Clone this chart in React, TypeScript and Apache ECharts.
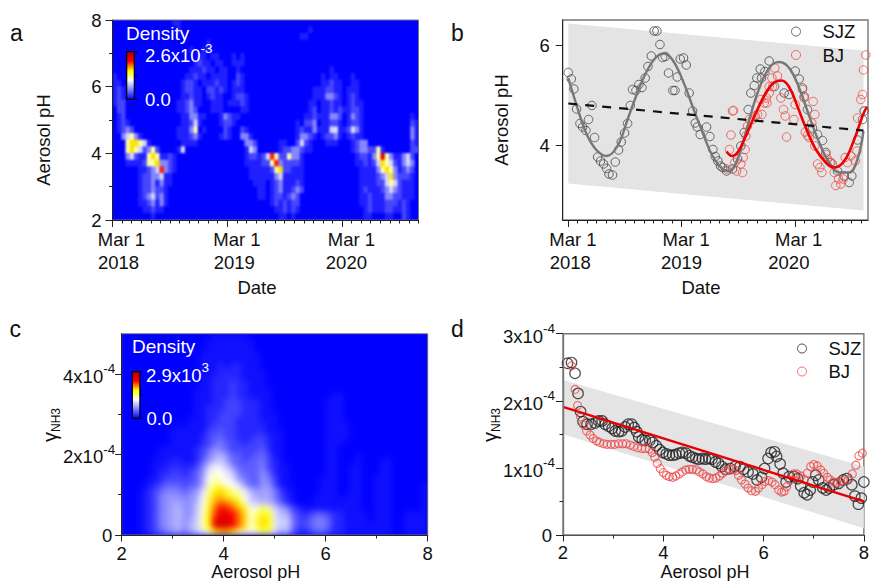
import React, { useEffect, useRef } from "react";
import * as echarts from "echarts";

const FONT = "Liberation Sans";
const BLUE_RAMP = ["#0000ff", "#8080ff", "#ffffff", "#ffff00", "#ff0000", "#b00000"];
// density scale for the level characters of each heat panel
const levelA = [0, 0.45, 1.0, 1.9, 3.0, 4.2, 5.6, 7.0, 8, 9];
const levelC = [
  0, 0.9, 2.1, 3.6, 5.2, 6.8, 8, 9, 10, 11, 11.5, 12, 12.7, 13.4, 14, 15, 16, 17, 18, 19, 20, 21, 22, 23, 24, 25, 26, 27,
  28, 29, 30, 31, 32, 33, 34, 35,
];

// Panel a: density levels (0-9), rows from pH 8 (top) to pH 2, 72 columns
const densityA = [
  "000000000000 001100000000 000000000000 000000000000 000000000000 000000000000",
  "000000000000 000100000000 000000000000 000000000010 000000000000 000000000000",
  "000000000000 000000000000 000000000000 000000001100 000000000000 000000000000",
  "000000000000 000000000010 000000000000 000000000000 000000000000 000000000000",
  "000000000000 000000100110 000000000000 000000000000 000000000000 000000000000",
  "000000000000 000000001101 100010100000 000000000000 000000000000 000000000000",
  "000000000000 000000012110 110011100000 000000000000 000000000000 000000000000",
  "000000000000 000000111211 011001000000 000000000000 000100000000 000000000000",
  "100000000000 000001121101 111002100000 000000000000 010110001000 000000000000",
  "110000000000 000012210111 211012100000 000000000000 011211001100 000000000000",
  "121000000000 000012211022 121011100000 000000000001 112211011100 000000000000",
  "121000000000 000011211012 110012210000 000000000001 113321012100 000000000000",
  "122000000000 000112311001 110111210000 000000000011 011211012110 000000000000",
  "022000000000 000112320001 110000110000 000000000012 011212112210 000000000000",
  "012000000000 000011331100 013211000000 000000000112 111332013210 000000000010",
  "012100000000 000011241000 012210000000 000000010223 011221012210 000000000021",
  "012320000000 000111350100 002100210000 000000012113 111441124310 000000000031",
  "003453100000 000111231000 012100331000 000000013321 012231012110 000000000031",
  "000566541000 000011110000 000000033200 000110024210 001110001233 000000000021",
  "000565423520 000140000000 000000014300 000122332110 000000001233 225100000022",
  "000342115651 121000000000 000000012212 475225331000 000000000122 135853113420",
  "000111125563 321000000000 000000011112 257322221000 000000000112 124654213430",
  "000000112347 321000000000 000000001111 125622111000 000000000011 113565312320",
  "000000122334 110000000000 000000001111 113411111000 000000000011 112346322210",
  "000000122313 110000000000 000000000111 012311121000 000000000011 112245421110",
  "000000122322 100000000000 000000000011 012311232000 000000000012 111234321110",
  "000000123423 100000000000 000000000011 012212320000 000000000011 211133221110",
  "000000112313 100000000000 000000000000 012121220000 000000000011 211122212100",
  "000000011211 000000000000 000000000000 001121210000 000000000001 211122112100",
  "000000000100 000000000000 000000000000 000110100000 000000000001 100011002100",
];

// Panel c: density levels (base 36), rows from 5x10-4 (top) to 0, 51 columns pH 2..8
const densityC = [
  "0000000000 0000011111 1000000000 0000000000 0000000000 0",
  "0000000000 0000111111 1100000000 0000000000 0000000000 0",
  "0000000000 0000111111 1100000000 0000000000 0000000000 0",
  "0000000000 0001111111 1110000000 0000000000 0000000000 0",
  "0000000000 0001111111 1110000000 0000000000 0000000000 0",
  "0000000000 0001112122 1110000000 0000000000 0000000000 0",
  "0000000000 0001112222 1111000000 0000000000 0000000000 0",
  "0000000000 0001122222 1111000000 0000000000 0000000000 0",
  "0000000000 0001122232 2111000000 0000000000 0000000000 0",
  "0000000000 0011122232 2111100000 0000000000 0000000000 0",
  "0000000000 0011122232 2111100000 0000011000 0000000000 0",
  "0000000000 0011122333 2221100000 0000111000 0000000000 0",
  "0000000000 0011222333 2221100000 0000111000 0000000000 0",
  "0000000000 0011223333 2221110000 0000111000 0000000000 0",
  "0000000000 0111223332 2221110000 0000111000 0000000000 0",
  "0000000001 0111233332 2222110000 0000111100 0000000000 0",
  "0000000011 1111334332 2222111000 0000111100 0000000000 0",
  "0000000011 1112344332 2233211000 0000111100 0000000000 0",
  "0000000011 1112345433 2333211000 0000111000 0000000000 0",
  "0000001111 1123465433 3334211000 0000110000 0000000000 0",
  "0000001111 1123578644 3344311000 0000110001 0000000000 0",
  "0000011122 1124689744 3445321000 0000110001 0001100000 0",
  "0000011222 2235adc964 4445321100 0000110011 0001100000 0",
  "0000012233 2346cfec95 4446421100 0000110011 0001100000 0",
  "0000112333 3347egfdb6 5446531100 0001110011 0011100000 0",
  "0000123444 3447fiheeb 6446631100 0001110011 0011100000 1",
  "0001234555 456bglmkhf c867753110 0001110011 0011100000 1",
  "0001235666 567dimnlji e977753210 0011110111 0011100000 1",
  "0001235677 668ejnponl fa98864210 0011111111 0011100000 1",
  "0001235678 669fkpsrpn lefiga7632 1111111111 0011100000 1",
  "0001235678 669flqtusp mfilkc8843 2344322111 1011100111 1",
  "0001235678 67agluvvsp mfjmlc9a53 3455422111 1011100111 1",
  "0001235678 68agluvvsp mfjmlc9a53 3455422111 1111100111 1",
  "0001234567 579cglnnlh gdgjib7842 2344322111 1111100111 1",
];

// Panel a/b date axis
const dateTicks = [0, 12, 24];
const dateMonth = ["Mar 1", "Mar 1", "Mar 1"];
const dateYear = ["2018", "2019", "2020"];
const monthTicks = [
  0, 1, 2, 3, 4, 5, 6, 7, 8, 9, 10, 11, 12, 13, 14, 15, 16, 17, 18, 19, 20, 21, 22, 23, 24, 25, 26,
  27, 28, 29, 30, 31, 32,
];
const offsetMonthA = [9, 9.7, 9.4];
const offsetYearA = [6, 7, 4.4];
const offsetMonthB = [4.6, 4.6, 3.8];
const offsetYearB = [2, 0, -6];

// Panel b: [months since Mar 1 2018, aerosol pH]
const sjzTime = [
  [0, 5.45], [0.32, 5.32], [0.6, 5.12], [0.88, 4.72], [1.24, 4.43], [1.52, 4.36], [1.87, 4.29], [2.15, 4.51],
  [2.5, 4.79], [2.79, 4.15], [3.11, 3.76], [3.42, 3.68], [3.74, 3.62], [4.06, 3.53], [4.31, 3.42], [4.69, 3.4],
  [4.98, 3.66], [5.33, 3.9], [5.61, 4.06], [5.97, 4.24], [6.28, 4.43], [6.57, 4.79], [6.81, 5.11], [7.17, 5.09],
  [7.48, 5.21], [7.8, 5.15], [8.15, 5.34], [8.44, 5.57], [8.79, 5.78], [9.1, 6.28], [9.39, 6.28], [9.71, 6.01],
  [9.99, 5.75], [10.27, 5.77], [10.62, 5.44], [11.08, 5.09], [11.3, 5.09], [11.54, 5.36], [11.86, 5.72],
  [12.21, 5.74], [12.5, 5.6], [12.81, 5.04], [13.17, 4.68], [13.45, 4.44], [13.66, 4.36], [13.98, 4.21],
  [14.65, 4.36], [15.0, 4.17], [15.32, 3.91], [15.57, 3.77], [15.85, 3.68], [16.13, 3.58], [16.34, 3.55],
  [16.77, 3.48], [17.4, 3.52], [17.93, 3.72], [18.28, 3.98], [18.64, 4.25], [19.06, 4.71], [19.34, 5.04],
  [19.7, 5.19], [19.98, 5.34], [20.33, 5.52], [20.47, 5.34], [20.83, 5.47], [21.28, 5.68], [21.85, 5.17],
  [22.87, 5.04], [23.4, 5.01], [24.04, 5.48], [24.46, 5.32], [24.81, 5.14], [24.99, 4.97], [25.34, 4.71],
  [25.87, 4.34], [26.4, 4.21], [26.93, 4.09], [27.28, 3.85], [27.81, 3.65], [28.52, 3.48], [29.23, 3.38],
  [29.76, 3.25], [30.04, 3.38], [30.64, 4.1], [31.17, 4.51], [31.34, 4.68],
];
const bjTime = [
  [16.8, 3.52], [17.08, 3.91], [17.23, 4.2], [17.4, 4.68], [17.51, 4.69], [17.65, 3.65], [17.83, 3.48],
  [18.28, 3.62], [18.46, 3.45], [18.53, 3.75], [18.74, 3.91], [18.81, 4.18], [18.99, 4.38], [19.17, 4.51],
  [19.52, 4.51], [19.8, 4.58], [20.05, 4.61], [20.51, 4.61], [20.4, 4.91], [20.76, 4.84], [21.0, 4.94],
  [21.04, 4.84], [21.28, 5.17], [21.28, 5.04], [21.57, 5.34], [21.64, 5.17], [21.88, 5.54], [22.17, 5.38],
  [22.52, 4.94], [22.8, 4.71], [22.98, 4.58], [23.12, 4.16], [23.9, 4.51], [24.04, 4.81], [24.81, 5.11],
  [24.99, 4.94], [25.94, 4.87], [26.12, 4.61], [25.8, 4.44], [25.1, 4.26], [25.34, 4.19], [25.52, 4.15],
  [26.12, 3.98], [26.4, 3.62], [26.65, 3.55], [26.86, 3.45], [27.28, 3.81], [27.46, 3.72], [27.74, 3.65],
  [27.99, 3.62], [28.17, 3.45], [28.34, 3.19], [28.63, 3.32], [28.87, 3.22], [29.12, 3.32], [29.33, 3.75],
  [29.58, 3.65], [29.93, 3.78], [30.39, 3.68], [30.57, 3.88], [30.64, 4.54], [30.99, 4.91], [31.17, 5.01],
  [31.27, 5.5], [31.52, 5.8],
];
const sjzFitTime = [
  [0, 5.34], [0.81, 4.84], [1.87, 4.25], [2.93, 3.91], [4.06, 3.78], [5.22, 3.98], [6.28, 4.51], [7.17, 4.97],
  [8.22, 5.44], [9.28, 5.75], [10.17, 5.83], [11.05, 5.7], [12.11, 5.3], [13.17, 4.77], [14.23, 4.25],
  [15.28, 3.78], [16.34, 3.52], [17.05, 3.48], [17.93, 3.72], [18.99, 4.38], [20.05, 5.04], [21.28, 5.54],
  [22.34, 5.66], [23.4, 5.54], [24.46, 5.14], [25.52, 4.58], [26.58, 4.05], [27.64, 3.65], [28.7, 3.45],
  [29.76, 3.45], [30.64, 3.72], [31.27, 4.28],
];
const bjFitTime = [
  [16.77, 3.87], [17.33, 3.78], [17.93, 3.85], [18.81, 4.18], [19.87, 4.64], [20.93, 5.04], [21.81, 5.25],
  [22.59, 5.29], [23.4, 5.16], [24.28, 4.77], [25.17, 4.34], [26.23, 3.91], [27.28, 3.65], [28.17, 3.55],
  [29.23, 3.68], [30.29, 4.11], [31.17, 4.58], [31.63, 4.77],
];
const trendTime = [[0, 4.83], [31.27, 4.29]];
const bandTime = [[0, 6.43], [31.27, 5.89], [31.27, 2.69], [0, 3.23]];

// Panel d: [aerosol pH, gamma NH3 in units of 1e-4]
const sjzGamma = [
  [2.09, 2.56], [2.17, 2.57], [2.24, 2.41], [2.3, 2.11], [2.35, 1.84], [2.4, 1.69], [2.48, 1.65], [2.56, 1.65],
  [2.64, 1.67], [2.71, 1.7], [2.78, 1.7], [2.84, 1.65], [2.91, 1.62], [2.98, 1.59], [3.04, 1.55], [3.11, 1.54],
  [3.17, 1.55], [3.24, 1.61], [3.3, 1.65], [3.37, 1.65], [3.42, 1.6], [3.47, 1.54], [3.51, 1.46], [3.58, 1.42],
  [3.64, 1.41], [3.73, 1.41], [3.79, 1.38], [3.86, 1.33], [3.93, 1.27], [3.99, 1.23], [4.06, 1.21], [4.12, 1.19],
  [4.19, 1.19], [4.25, 1.2], [4.32, 1.22], [4.38, 1.23], [4.45, 1.22], [4.52, 1.18], [4.58, 1.16], [4.65, 1.14],
  [4.71, 1.13], [4.78, 1.14], [4.84, 1.13], [4.91, 1.14], [4.97, 1.13], [5.04, 1.09], [5.1, 1.07], [5.17, 1.02],
  [5.24, 0.98], [5.33, 0.99], [5.43, 1.02], [5.53, 1.02], [5.6, 0.98], [5.69, 0.94], [5.79, 0.91], [5.87, 0.82],
  [5.96, 0.86], [6.02, 0.99], [6.09, 1.14], [6.15, 1.23], [6.22, 1.24], [6.26, 1.17], [6.33, 1.06], [6.39, 0.92],
  [6.45, 0.79], [6.51, 0.87], [6.61, 0.87], [6.68, 0.84], [6.74, 0.73], [6.81, 0.63], [6.87, 0.6], [6.93, 0.67],
  [6.98, 0.79], [7.04, 0.89], [7.1, 0.82], [7.18, 0.7], [7.25, 0.67], [7.31, 0.7], [7.4, 0.75], [7.5, 0.77],
  [7.59, 0.82], [7.66, 0.84], [7.76, 0.75], [7.82, 0.58], [7.89, 0.46], [7.95, 0.55], [8.0, 0.79],
];
const bjGamma = [
  [2.17, 2.52], [2.24, 2.17], [2.29, 1.93], [2.35, 1.76], [2.41, 1.64], [2.47, 1.55], [2.54, 1.49], [2.6, 1.44],
  [2.67, 1.4], [2.73, 1.38], [2.81, 1.36], [2.88, 1.35], [2.96, 1.35], [3.03, 1.35], [3.11, 1.36], [3.19, 1.36],
  [3.26, 1.36], [3.34, 1.34], [3.41, 1.32], [3.49, 1.3], [3.57, 1.29], [3.64, 1.29], [3.72, 1.28], [3.78, 1.23],
  [3.83, 1.16], [3.88, 1.07], [3.94, 0.99], [4.0, 0.93], [4.06, 0.89], [4.12, 0.87], [4.19, 0.86], [4.25, 0.88],
  [4.32, 0.91], [4.38, 0.94], [4.45, 0.97], [4.52, 0.98], [4.58, 0.98], [4.66, 0.97], [4.72, 0.94], [4.79, 0.91],
  [4.86, 0.87], [4.92, 0.85], [4.99, 0.84], [5.05, 0.85], [5.12, 0.88], [5.18, 0.92], [5.25, 0.96], [5.32, 0.98],
  [5.39, 0.98], [5.45, 0.96], [5.5, 0.89], [5.56, 0.82], [5.63, 0.76], [5.69, 0.7], [5.76, 0.66], [5.84, 0.65],
  [5.9, 0.7], [5.97, 0.75], [6.03, 0.8], [6.1, 0.81], [6.17, 0.79], [6.23, 0.75], [6.3, 0.67], [6.36, 0.64],
  [6.41, 0.65], [6.46, 0.72], [6.53, 0.82], [6.59, 0.91], [6.66, 0.91], [6.74, 0.88], [6.81, 0.83], [6.87, 0.92],
  [6.94, 1.02], [7.0, 1.05], [7.07, 1.03], [7.14, 0.97], [7.2, 0.92], [7.27, 0.86], [7.33, 0.82], [7.4, 0.79],
  [7.46, 0.78], [7.53, 0.79], [7.59, 0.81], [7.69, 0.82], [7.77, 0.91], [7.84, 1.04], [7.9, 1.18], [7.97, 1.22],
];
const fitGamma = [[2, 1.91], [8, 0.5]];
const bandGamma = [[2, 2.31], [8, 1.02], [8, 0.1], [2, 1.5]];

function gridData(rows: string[], map: number[]) {
  const clean = rows.map((r) => r.replace(/ /g, ""));
  const out: number[][] = [];
  clean.forEach((row, r) => {
    for (let c = 0; c < row.length; c++) {
      out.push([c, clean.length - 1 - r, map[parseInt(row[c], 36)]]);
    }
  });
  return { data: out, cols: clean[0].length, rows: clean.length };
}

function heatOption(rows: string[], max: number, map: number[]) {
  const g = gridData(rows, map);
  return {
    animation: false,
    backgroundColor: "#0000ff",
    grid: { left: 0, right: 0, top: 0, bottom: 0 },
    xAxis: { type: "category", show: false, data: Array.from({ length: g.cols }, (_, i) => i) },
    yAxis: { type: "category", show: false, data: Array.from({ length: g.rows }, (_, i) => i) },
    visualMap: { show: false, type: "continuous", dimension: 2, min: 0, max, inRange: { color: BLUE_RAMP } },
    series: [{ type: "heatmap", data: g.data, silent: true, progressive: 0 }],
  };
}

function dateAxisLabel(offM: number[], offY: number[], margin: number) {
  const rich: any = {};
  const pad = (d: number) => (d >= 0 ? [0, 0, 0, 2 * d] : [0, -2 * d, 0, 0]);
  dateTicks.forEach((_, i) => {
    rich["m" + i] = { fontFamily: FONT, fontSize: 18.5, color: "#111", lineHeight: 23, align: "center", padding: pad(offM[i]) };
    rich["y" + i] = { fontFamily: FONT, fontSize: 18.5, color: "#111", lineHeight: 23, align: "center", padding: pad(offY[i]) };
  });
  return {
    customValues: dateTicks,
    margin,
    rich,
    formatter: (v: number) => {
      const i = dateTicks.indexOf(v);
      return `{m${i}|${dateMonth[i]}}\n{y${i}|${dateYear[i]}}`;
    },
  };
}

const supRich = {
  a: { fontFamily: FONT, fontSize: 18.5, color: "#111", lineHeight: 24, verticalAlign: "bottom" },
  b: { fontFamily: FONT, fontSize: 13.5, color: "#111", lineHeight: 14, verticalAlign: "top" },
  z: { fontFamily: FONT, fontSize: 18.5, color: "#111", lineHeight: 18, padding: [0, 3, 0, 0] },
};

const gammaLabel = (v: number) => (v === 0 ? "{z|0}" : `{a|${v}x10}{b|-4}`);

const axisLine = (color = "#222", width = 1) => ({ show: true, onZero: false, lineStyle: { color, width } });
const tick = (length: number) => ({ show: true, inside: false, length, lineStyle: { color: "#222", width: 1 } });
const plainLabel = { fontFamily: FONT, fontSize: 18.5, color: "#111" };
const minor = { show: true, splitNumber: 2, length: 3.5, lineStyle: { color: "#222" } };

function whiteText(x: number, y: number, text: string, fontSize = 18.5) {
  return { type: "text", z: 100, x, y, style: { text, fill: "#fff", fontFamily: FONT, fontSize, align: "left", verticalAlign: "middle" } };
}
function supText(x: number, y: number, base: string, sup: string) {
  return {
    type: "text",
    z: 100,
    x,
    y,
    style: {
      text: `{a|${base}}{b|${sup}}`,
      align: "left",
      verticalAlign: "middle",
      rich: {
        a: { fill: "#fff", fontFamily: FONT, fontSize: 18.5, lineHeight: 24, verticalAlign: "bottom" },
        b: { fill: "#fff", fontFamily: FONT, fontSize: 13.5, lineHeight: 14, verticalAlign: "top" },
      },
    },
  };
}
function darkText(x: number, y: number, text: string, fontSize = 23) {
  return { type: "text", z: 100, x, y, style: { text, fill: "#111", fontFamily: FONT, fontSize, align: "left", verticalAlign: "middle" } };
}
function axisTitle(x: number, y: number, text: string, rotated = false, fontSize = 18.5) {
  return {
    type: "text",
    z: 100,
    x,
    y,
    rotation: rotated ? Math.PI / 2 : 0,
    style: { text, fill: "#111", fontFamily: FONT, fontSize, align: "center", verticalAlign: "middle" },
  };
}
function gammaTitle(x: number, y: number) {
  return {
    type: "text",
    z: 100,
    x,
    y,
    rotation: Math.PI / 2,
    style: {
      text: "{g|γ}{s|NH3}",
      align: "center",
      verticalAlign: "middle",
      rich: {
        g: { fill: "#111", fontFamily: FONT, fontSize: 20, lineHeight: 18, verticalAlign: "top" },
        s: { fill: "#111", fontFamily: FONT, fontSize: 12, lineHeight: 22, verticalAlign: "bottom" },
      },
    },
  };
}
function colorBar(x: number, y: number, w: number, h: number) {
  const line = (x1: number, y1: number, x2: number, y2: number) => ({
    type: "line",
    z: 100,
    shape: { x1, y1, x2, y2 },
    style: { stroke: "#000", lineWidth: 1 },
  });
  const stops = BLUE_RAMP.map((color, i) => ({ offset: i / (BLUE_RAMP.length - 1), color }));
  return [
    {
      type: "rect",
      z: 100,
      shape: { x, y, width: w, height: h },
      style: { fill: new echarts.graphic.LinearGradient(0, 1, 0, 0, stops), stroke: "#000", lineWidth: 1.2 },
    },
    line(x + w, y, x + w + 3, y),
    line(x + w, y + h / 2, x + w + 3, y + h / 2),
    line(x + w, y + h, x + w + 3, y + h),
  ];
}

function hollow(color: string, size: number, data: number[][], name: string, xi: number, yi: number, width = 1) {
  return {
    type: "scatter",
    name,
    xAxisIndex: xi,
    yAxisIndex: yi,
    data,
    symbol: "circle",
    symbolSize: size,
    silent: true,
    clip: true,
    z: 3,
    itemStyle: { color: "rgba(0,0,0,0)", borderColor: color, borderWidth: width },
  };
}
function band(poly: number[][], name: string, xi: number, yi: number) {
  return {
    type: "custom",
    name,
    xAxisIndex: xi,
    yAxisIndex: yi,
    silent: true,
    z: 1,
    data: [poly[0]],
    renderItem: (_: any, api: any) => ({
      type: "polygon",
      shape: { points: poly.map((p) => api.coord(p)) },
      style: { fill: "#e4e4e4" },
    }),
  };
}
function curve(data: number[][], color: string, width: number, xi: number, yi: number, name: string, extra: any = {}) {
  const { smooth, ...rest } = extra;
  return {
    type: "line",
    name,
    data,
    xAxisIndex: xi,
    yAxisIndex: yi,
    symbol: "none",
    silent: true,
    z: 4,
    lineStyle: { color, width, ...rest },
    smooth: smooth || false,
  };
}

export default function App() {
  const ref = useRef<HTMLDivElement>(null);
  const heatARef = useRef<HTMLDivElement>(null);
  const heatCRef = useRef<HTMLDivElement>(null);
  useEffect(() => {
    document.body.style.margin = "0";
    const heatA = echarts.init(heatARef.current!, undefined, { renderer: "svg" });
    heatA.setOption(heatOption(densityA, 9, levelA));
    const heatC = echarts.init(heatCRef.current!, undefined, { renderer: "svg" });
    heatC.setOption(heatOption(densityC, 35, levelC));
    const chart = echarts.init(ref.current!, undefined, { renderer: "svg" });
    const option: any = {
      animation: false,
      textStyle: { fontFamily: FONT },
      grid: [
        { left: 112.5, top: 20, width: 306, height: 200, show: true, borderColor: "#777", borderWidth: 1 },
        { left: 562.7, top: 20, width: 305.3, height: 200, show: true, borderColor: "#777", borderWidth: 1.4 },
        { left: 121.7, top: 333.7, width: 306, height: 201.3, show: true, borderColor: "#777", borderWidth: 1 },
        { left: 563, top: 333.7, width: 305, height: 201.3, show: true, borderColor: "#777", borderWidth: 1.4 },
      ],
      xAxis: [
        {
          type: "value", gridIndex: 0, min: 0, max: 32, position: "bottom", z: 5, splitLine: { show: false },
          axisLine: axisLine(), axisTick: { ...tick(7), customValues: dateTicks },
          axisLabel: dateAxisLabel(offsetMonthA, offsetYearA, 8),
        },
        {
          type: "value", gridIndex: 0, min: 0, max: 32, position: "bottom", z: 5, splitLine: { show: false },
          axisLine: { show: false, onZero: false }, axisTick: { ...tick(3.5), customValues: monthTicks }, axisLabel: { show: false },
        },
        {
          type: "value", gridIndex: 1, min: -0.59, max: 31.75, position: "bottom", z: 5, splitLine: { show: false },
          axisLine: axisLine(), axisTick: { ...tick(7), customValues: dateTicks },
          axisLabel: dateAxisLabel(offsetMonthB, offsetYearB, 8),
        },
        {
          type: "value", gridIndex: 1, min: -0.59, max: 31.75, position: "bottom", z: 5, splitLine: { show: false },
          axisLine: { show: false, onZero: false }, axisTick: { ...tick(3.5), customValues: monthTicks.slice(0, 32) }, axisLabel: { show: false },
        },
        {
          type: "value", gridIndex: 2, min: 2, max: 8, interval: 2, position: "bottom", z: 5, splitLine: { show: false },
          axisLine: axisLine(), axisTick: tick(6.5), minorTick: minor,
          axisLabel: { ...plainLabel, margin: 11, lineHeight: 14 },
        },
        {
          type: "value", gridIndex: 3, min: 2, max: 8, interval: 2, position: "bottom", z: 5, splitLine: { show: false },
          axisLine: axisLine("#555"), axisTick: tick(6.5), minorTick: minor,
          axisLabel: { ...plainLabel, margin: 10, lineHeight: 14 },
        },
      ],
      yAxis: [
        {
          type: "value", gridIndex: 0, min: 2, max: 8, interval: 2, position: "left", z: 5, splitLine: { show: false },
          axisLine: axisLine(), axisTick: tick(7), minorTick: minor,
          axisLabel: { ...plainLabel, margin: 11 },
        },
        {
          type: "value", gridIndex: 1, min: 2.5, max: 6.5, position: "left", z: 5, splitLine: { show: false },
          axisLine: axisLine(), axisTick: { ...tick(7), customValues: [4, 6] },
          axisLabel: { ...plainLabel, margin: 13, customValues: [4, 6] },
        },
        {
          type: "value", gridIndex: 2, min: 0, max: 5, position: "left", z: 5, splitLine: { show: false },
          axisLine: axisLine(), axisTick: { ...tick(6.5), customValues: [0, 2, 4] },
          axisLabel: { customValues: [0, 2, 4], margin: 6.5, formatter: gammaLabel, rich: supRich },
        },
        {
          type: "value", gridIndex: 2, min: 0, max: 5, position: "left", z: 5, splitLine: { show: false },
          axisLine: { show: false, onZero: false }, axisTick: { ...tick(3.5), customValues: [1, 3] }, axisLabel: { show: false },
        },
        {
          type: "value", gridIndex: 3, min: 0, max: 3, interval: 1, position: "left", z: 5, splitLine: { show: false },
          axisLine: axisLine("#777", 1.4), axisTick: tick(7), minorTick: minor,
          axisLabel: { margin: 8, formatter: gammaLabel, rich: supRich },
        },
      ],
      legend: [
        {
          data: ["SJZ", "BJ"], left: 791, top: 22, orient: "vertical", itemWidth: 9, itemHeight: 9, itemGap: 4.5, padding: 0, icon: "circle",
          selectedMode: false, itemStyle: { borderWidth: 1 },
          textStyle: { fontFamily: FONT, fontSize: 18.5, color: "#111", padding: [0, 0, 0, 17], lineHeight: 14 },
        },
        {
          data: ["SJZ d", "BJ d"], left: 797, top: 339, orient: "vertical", itemWidth: 9, itemHeight: 9, itemGap: 4, padding: 0, icon: "circle",
          selectedMode: false, itemStyle: { borderWidth: 1 }, formatter: (n: string) => n.split(" ")[0],
          textStyle: { fontFamily: FONT, fontSize: 18.5, color: "#111", padding: [0, 0, 0, 17], lineHeight: 14 },
        },
      ],
      series: [
        band(bandTime, "band b", 2, 1),
        hollow("#444", 8.5, sjzTime, "SJZ", 2, 1),
        hollow("#f04848", 8.5, bjTime, "BJ", 2, 1),
        curve(sjzFitTime, "#777", 2.4, 2, 1, "SJZ fit", { smooth: 0.4 }),
        curve(bjFitTime, "#f00000", 2.6, 2, 1, "BJ fit", { smooth: 0.4 }),
        curve(trendTime, "#111", 2.2, 2, 1, "trend", { type: [9, 8] }),
        band(bandGamma, "band d", 5, 4),
        hollow("#222", 10.5, sjzGamma, "SJZ d", 5, 4, 1.2),
        hollow("#f04848", 8, bjGamma, "BJ d", 5, 4, 1.1),
        curve(fitGamma, "#e80000", 2.4, 5, 4, "fit d"),
      ],
      graphic: {
        elements: [
          darkText(10, 33, "a"),
          darkText(451, 33, "b"),
          darkText(9.5, 329, "c"),
          darkText(451, 329, "d"),
          axisTitle(43, 140, "Aerosol pH", true),
          axisTitle(501.7, 120, "Aerosol pH", true),
          axisTitle(257, 287, "Date"),
          axisTitle(701, 287, "Date"),
          axisTitle(255.7, 572, "Aerosol pH", false, 18),
          axisTitle(705, 572, "Aerosol pH", false, 18),
          gammaTitle(51, 425),
          gammaTitle(491, 425),
          whiteText(126, 33, "Density", 19),
          supText(145, 53, "2.6x10", "-3"),
          whiteText(145, 99.5, "0.0"),
          ...colorBar(126.7, 51.7, 7.6, 47.6),
          whiteText(132, 346.7, "Density", 19),
          supText(146, 372.7, "2.9x10", "3"),
          whiteText(146.5, 418.3, "0.0"),
          ...colorBar(132.3, 371.7, 7.6, 46.6),
        ],
      },
    };
    chart.setOption(option);
    return () => {
      chart.dispose();
      heatA.dispose();
      heatC.dispose();
    };
  }, []);
  const clip = (left: number, top: number, width: number, height: number): React.CSSProperties => ({
    position: "absolute", left, top, width, height, overflow: "hidden", background: "#0000ff",
  });
  return (
    <div style={{ width: 872, height: 581, position: "absolute", left: 0, top: 0, overflow: "hidden" }}>
      <div style={clip(112.5, 20, 306, 200)}>
        <div ref={heatARef} style={{ width: 306, height: 200, filter: "blur(0.9px)" }} />
      </div>
      <div style={clip(121.7, 333.7, 306, 201.3)}>
        <div ref={heatCRef} style={{ width: 306, height: 201.3, filter: "blur(3px)" }} />
      </div>
      <div ref={ref} style={{ width: 872, height: 581, position: "absolute", left: 0, top: 0 }} />
    </div>
  );
}
